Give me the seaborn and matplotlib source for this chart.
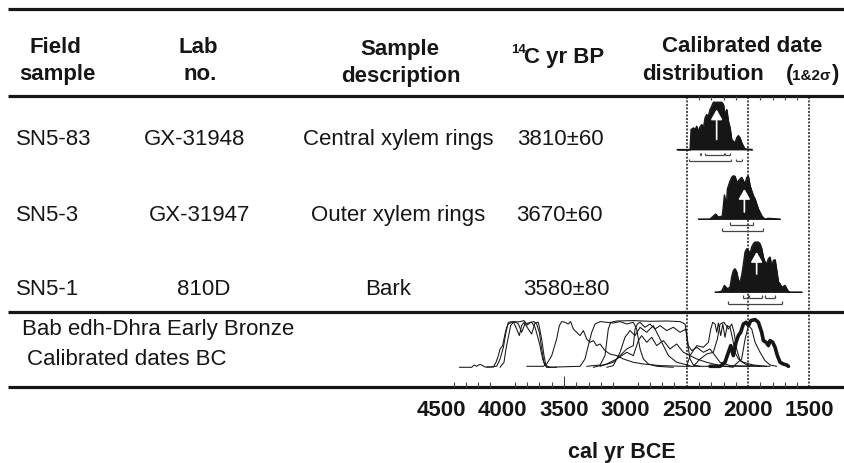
import matplotlib
matplotlib.use("Agg")
import matplotlib.pyplot as plt
import numpy as np
import pandas as pd
import seaborn as sns

# ---------------- table content ----------------
field_samples = ["SN5-83", "SN5-3", "SN5-1"]
lab_numbers = ["GX-31948", "GX-31947", "810D"]
descriptions = ["Central xylem rings", "Outer xylem rings", "Bark"]
c14_ages = ["3810±60", "3670±60", "3580±80"]

# ---------------- calibrated distributions (cal yr BCE, relative probability) ----------------
dist1_years = [2579, 2473, 2468, 2465, 2446, 2432, 2419, 2405, 2392, 2378, 2364, 2351, 2337, 2324,
               2310, 2297, 2283, 2269, 2242, 2215, 2201, 2188, 2174, 2161, 2147, 2134, 2120, 2106,
               2093, 2079, 2066, 2052, 2038, 2025, 1967]
dist1_prob = [0, 0, 12, 20, 21.7, 20, 23.3, 18.3, 22.7, 25, 21.7, 31.7, 35, 33.3,
              40, 43.3, 47.3, 47.3, 47.3, 47.3, 45, 35, 40, 28.3, 21.7, 10, 8.3, 6.7,
              11.7, 14, 11.7, 6.7, 3.3, 0.7, 0]

dist2_years = [2405, 2310, 2283, 2264, 2242, 2210, 2193, 2182, 2174, 2169, 2161, 2147, 2134, 2120,
               2106, 2093, 2079, 2066, 2052, 2038, 2025, 2011, 1998, 1984, 1971, 1957, 1943, 1930,
               1916, 1903, 1889, 1875, 1862, 1835, 1740]
dist2_prob = [0, 0, 3, 5, 2, 3, 24, 13, 20, 30, 33, 38, 41.7, 43.3,
              42.7, 36.7, 38.3, 40, 41.7, 38.3, 35, 41.7, 42.7, 33.3, 28.3, 23.3, 20, 15,
              10, 6.7, 3.3, 1.3, 0, 0.7, 0]

dist3_years = [2269, 2242, 2215, 2193, 2182, 2166, 2147, 2134, 2120, 2106, 2093, 2079, 2066, 2052,
               2038, 2025, 2011, 1998, 1984, 1971, 1957, 1943, 1916, 1903, 1889, 1876, 1862, 1848,
               1835, 1821, 1808, 1794, 1780, 1767, 1753, 1740, 1726, 1712, 1699, 1685, 1672, 1658, 1563]
dist3_prob = [0, 0, 1, 6.7, 5, 3.3, 5, 15, 21.7, 23.3, 20, 11.7, 10, 16.7,
              28.3, 40, 43.3, 41.7, 38.3, 45, 48.3, 50, 50, 48.3, 43.3, 35, 30, 28.3,
              33.3, 35, 25, 31.7, 32.3, 21.7, 10, 8.3, 5, 5.7, 6.7, 3.3, 0.7, 0, 0]

median_years = [2256, 2030, 1930]
sigma1_ranges = [[(2395, 2380), (2352, 2195), (2185, 2150)],
                 [(2147, 1957)],
                 [(2038, 1998), (1992, 1884), (1862, 1780)]]
sigma2_ranges = [[(2483, 2143), (2100, 2048)],
                 [(2215, 1875)],
                 [(2161, 1726)]]

# ---------------- Bab edh-Dhra Early Bronze calibrated dates ----------------
bab1_years = [4353, 4252, 4233, 4212, 4185, 4163, 4144, 4076, 4054, 4035, 4021, 4000, 3981, 3967, 3954,
              3927, 3899, 3872, 3845, 3818, 3791, 3764, 3736, 3717, 3696, 3674, 3655, 3628, 3560]
bab1_prob = [0, 0, 2.3, 1, 3, 1.7, 0.3, 0.3, 5, 11.7, 18.3, 21.7, 33.3, 40, 43.3,
             45, 45.7, 43.3, 35, 43.3, 44.3, 45, 40, 31.7, 21.7, 8.3, 1.7, 0, 0]
bab2_years = [4130, 4049, 4021, 3994, 3973, 3954, 3913, 3886, 3864, 3845, 3826, 3791, 3764, 3736, 3709,
              3682, 3663, 3647, 3614]
bab2_prob = [0, 1, 8.3, 20, 35, 45, 45.7, 38.3, 31.7, 41.7, 45, 38.3, 33.3, 44.3, 45,
             28.3, 11.7, 1.7, 0]
bab3_years = [4021, 3989, 3973, 3954, 3935, 3913, 3858, 3826, 3799, 3772, 3744, 3723, 3701, 3682, 3663, 3641]
bab3_prob = [0, 5, 18.3, 30, 41.7, 45, 45.7, 46.7, 42.3, 45, 45.7, 43.3, 35, 18.3, 5, 0]
bab4_years = [3804, 3668, 3641, 3600, 3560, 3538, 3519, 3492, 3465, 3446, 3424, 3397, 3369, 3342, 3315,
              3288, 3261, 3234, 3206, 3166, 3125, 3071, 3016, 2935, 2853, 2717, 2527, 2120, 1821]
bab4_prob = [1, 1, 3.3, 11.7, 28.3, 41.7, 45.7, 45, 43.3, 45.7, 38.3, 35, 31.7, 36.7, 28.3,
             25, 26.7, 21.7, 23.3, 16.7, 13.3, 11.7, 8.3, 5, 3.3, 1.7, 1, 1, 1]
bab5_years = [3641, 3369, 3329, 3302, 3274, 3247, 3206, 3152, 3098, 3043, 2989, 2935, 2908, 2880, 2853,
              2812, 2745, 2609]
bab5_prob = [0, 1, 8.3, 21.7, 35, 43.3, 45.7, 45, 44.3, 45.7, 43.3, 45, 38.3, 18.3, 8.3, 3.3, 1, 0]
bab6_years = [3315, 3206, 3166, 3139, 3119, 3071, 2935, 2799, 2663, 2554, 2513, 2494, 2473, 2446, 2391]
bab6_prob = [1, 2.3, 11.7, 38.3, 45, 46.3, 46.7, 46, 46.3, 45.7, 43.3, 25, 8.3, 2.3, 1]
bab7_years = [3206, 3098, 3043, 2989, 2935, 2921, 2902, 2880, 2840, 2799, 2758, 2717, 2663, 2609, 2554,
              2506, 2487, 2459, 2418, 2364, 2310, 2269, 2228, 2147, 1984]
bab7_prob = [1, 5, 11.7, 18.3, 21.7, 38.3, 43.3, 45, 40, 43.3, 38.3, 41.7, 36.7, 40, 35,
             38.3, 21.7, 16.7, 20, 15, 18.3, 11.7, 5, 1.7, 1]
bab8_years = [3261, 3152, 3071, 2989, 2935, 2894, 2867, 2826, 2785, 2745, 2690, 2636, 2582, 2527, 2473,
              2418, 2337, 2228, 2120]
bab8_prob = [0, 3.3, 8.3, 15, 11.7, 26.7, 31.7, 25, 30, 21.7, 26.7, 18.3, 23.3, 15, 11.7, 8.3, 5, 1.7, 0]
bab9_years = [3152, 3098, 3043, 3003, 2962, 2921, 2880, 2826, 2772, 2731, 2690, 2649, 2582, 2473]
bab9_prob = [0, 1.7, 15, 30, 36.7, 31.7, 40, 35, 41.7, 31.7, 21.7, 11.7, 5, 1.7]
bab10_years = [2500, 2473, 2446, 2418, 2364, 2323, 2304, 2288, 2269, 2255, 2242, 2223, 2206, 2188, 2169,
               2147, 2125, 2106, 2079, 2038, 1957, 1848]
bab10_prob = [1, 11.7, 16.7, 21.7, 20, 25, 38.3, 45, 43.3, 35, 44.3, 31.7, 43.3, 30, 41.7,
              40, 28.3, 15, 8.3, 5, 2.3, 1]
bab11_years = [2446, 2391, 2337, 2283, 2250, 2228, 2196, 2160, 2133, 2114, 2093, 2065, 2011, 1902]
bab11_prob = [1, 8.3, 13.3, 15, 28.3, 43.3, 45, 38.3, 43.3, 35, 18.3, 6.7, 2.3, 1]
bab12_years = [2120, 2052, 2024, 1997, 1970, 1943, 1902, 1862, 1821, 1766]
bab12_prob = [1, 8.3, 28.3, 41.7, 38.3, 25, 15, 6.7, 2.3, 1]
# bold curve: this study's samples combined
sn5_years = [2310, 2228, 2188, 2160, 2141, 2120, 2098, 2079, 2060, 2038, 2016, 1997, 1978, 1943, 1916,
             1889, 1875, 1853, 1834, 1821, 1799, 1780, 1761, 1739, 1712, 1685, 1671]
sn5_prob = [1, 1, 5, 15, 21.7, 11.7, 25, 31.7, 35, 43.3, 45, 41.7, 46.7, 47.7, 45,
            35, 26.7, 25, 21.7, 26.7, 25, 20, 11.7, 5, 3.3, 2.3, 1]

# ---------------- axis ticks ----------------
tick_label_years = [4500, 4000, 3500, 3000, 2500, 2000, 1500]
minor_tick_years = list(range(4400, 1500, -100))
top_tick_years = [2400, 2300, 2200, 2100, 1900, 1800, 1700, 1600]
long_tick_years = [3500]
guide_years = [2500, 2000, 1500]

# ---------------- style ----------------
sns.set_theme(style="white")
plt.rcParams["font.family"] = ["Liberation Sans", "DejaVu Sans"]
INK = "#161616"
GREY = "#444444"

W, H = 845, 464
fig = plt.figure(figsize=(W / 100, H / 100), dpi=100)


def px_axes(x0, x1, y0, y1):
    ax = fig.add_axes([x0 / W, 1 - y1 / H, (x1 - x0) / W, (y1 - y0) / H])
    ax.set_facecolor("none")
    return ax


XL = (4673.6, 1209.9)   # years at the left / right edge of the date columns

# ---- table frame and text (pixel-coordinate overlay)
ax0 = px_axes(0, W, 0, H)
ax0.set_xlim(0, W)
ax0.set_ylim(H, 0)
ax0.axis("off")
ax0.hlines([10, 97, 313, 388], 8, W, color=INK, lw=2.3)

hdr = dict(fontsize=16, fontweight="bold", color=INK, va="baseline")
ax0.text(55, 53, "Field", ha="center", **hdr)
ax0.text(57, 80, "sample", ha="center", **hdr)
ax0.text(198, 53, "Lab", ha="center", **hdr)
ax0.text(200, 80, "no.", ha="center", **hdr)
ax0.text(400, 55, "Sample", ha="center", **hdr)
ax0.text(401, 82, "description", ha="center", **hdr)
ax0.text(511, 53, "14", ha="left", fontsize=9.5, fontweight="bold", color=INK, va="baseline")
ax0.text(524, 63, "C yr BP", ha="left", **hdr)
ax0.text(742, 52, "Calibrated date", ha="center", **hdr)
ax0.text(642, 80, "distribution", ha="left", **hdr)
ax0.text(838, 80, ")", ha="right", **hdr)
ax0.text(831, 80, "1&2σ", ha="right", fontsize=11, fontweight="bold", color=INK, va="baseline")
ax0.text(793, 80, "(", ha="right", **hdr)

body = dict(fontsize=16, color=INK, va="baseline")
row_text_baselines = [145, 221, 295]
lab_x = [195, 200, 204]
desc_x = [398, 398, 388]
age_x = [560, 559, 566]
for i in range(3):
    yb = row_text_baselines[i]
    ax0.text(16, yb, field_samples[i], ha="left", **body)
    ax0.text(lab_x[i], yb, lab_numbers[i], ha="center", **body)
    ax0.text(desc_x[i], yb, descriptions[i], ha="center", **body)
    ax0.text(age_x[i], yb, c14_ages[i], ha="center", **body)

ax0.text(22, 335, "Bab edh-Dhra Early Bronze", ha="left", **body)
ax0.text(27, 365, "Calibrated dates BC", ha="left", **body)

# ---- shared date column: guides, ticks, labels
axc = px_axes(420, W, 97, 388)
axc.set_xlim(XL)
axc.set_ylim(0, 1)
for s in axc.spines.values():
    s.set_visible(False)
for yr in guide_years:
    axc.axvline(yr, color=INK, lw=1.1, ls=(0, (1.3, 1.0)))
axc.set_yticks([])
axc.set_xticks(tick_label_years)
axc.set_xticklabels([str(t) for t in tick_label_years], fontsize=16, fontweight="bold", color=INK)
axc.set_xticks(minor_tick_years, minor=True)
axc.tick_params(axis="x", which="major", length=0, pad=9)
axc.tick_params(axis="x", which="minor", direction="in", length=3.6, width=0.8, color=GREY, bottom=True)
axc.set_xlabel("cal yr BCE", fontsize=15.5, fontweight="bold", color=INK)
axc.xaxis.label.set_va("baseline")
axc.xaxis.set_label_coords((622 - 420) / 425, -(458 - 388) / 291)

sec_top = axc.secondary_xaxis("top")
sec_top.set_xticks(top_tick_years)
sec_top.tick_params(direction="in", length=3.0, width=0.8, color=GREY, labeltop=False)
for s in sec_top.spines.values():
    s.set_visible(False)

sec_bot = axc.secondary_xaxis("bottom")
sec_bot.set_xticks(long_tick_years)
sec_bot.tick_params(direction="in", length=8, width=0.8, color=GREY, labelbottom=False)
for s in sec_bot.spines.values():
    s.set_visible(False)

# ---- per-sample calibrated distributions
dists = [(dist1_years, dist1_prob), (dist2_years, dist2_prob), (dist3_years, dist3_prob)]
row_baselines = [150.5, 220, 293]
arrow_span = [(10, 40), (7, 30), (18, 40)]
for i, (yrs, prob) in enumerate(dists):
    b = row_baselines[i]
    ax = px_axes(420, W, b - 55, b + 15)
    ax.set_xlim(XL)
    ax.set_ylim(-15, 55)
    ax.fill_between(yrs, 0, prob, facecolor=INK, edgecolor=INK, lw=0.6, antialiased=True)
    sns.lineplot(x=yrs, y=prob, ax=ax, color=INK, lw=0.9, estimator=None, sort=False)
    tail, tip = arrow_span[i]
    ax.annotate("", xy=(median_years[i], tip), xytext=(median_years[i], tail),
                arrowprops=dict(arrowstyle="-|>,head_length=0.6,head_width=0.34",
                                color="white", lw=1.2, shrinkA=0, shrinkB=0, mutation_scale=10))
    for lo, hi in sigma1_ranges[i]:
        ax.hlines(-5.5, lo, hi, color=GREY, lw=0.9)
        ax.vlines([lo, hi], -5.5, -3.3, color=GREY, lw=0.9)
    for lo, hi in sigma2_ranges[i]:
        ax.hlines(-11.5, lo, hi, color=GREY, lw=0.9)
        ax.vlines([lo, hi], -11.5, -9.3, color=GREY, lw=0.9)
    ax.axis("off")

# ---- Bab edh-Dhra spaghetti of calibrated dates
thin = [(bab1_years, bab1_prob), (bab2_years, bab2_prob), (bab3_years, bab3_prob),
        (bab4_years, bab4_prob), (bab5_years, bab5_prob), (bab6_years, bab6_prob),
        (bab7_years, bab7_prob), (bab8_years, bab8_prob), (bab9_years, bab9_prob),
        (bab10_years, bab10_prob), (bab11_years, bab11_prob), (bab12_years, bab12_prob)]
frames = []
for k, (yrs, prob) in enumerate(thin):
    frames.append(pd.DataFrame({"year": yrs, "prob": prob, "curve": k}))
df_thin = pd.concat(frames, ignore_index=True)
df_sn5 = pd.DataFrame({"year": sn5_years, "prob": sn5_prob})

axb = px_axes(420, W, 313, 388)
axb.set_xlim(XL)
axb.set_ylim(-19.7, 55.3)
sns.lineplot(data=df_thin, x="year", y="prob", units="curve", estimator=None, sort=False,
             color=INK, lw=0.75, ax=axb)
sns.lineplot(data=df_sn5, x="year", y="prob", estimator=None, sort=False,
             color=INK, lw=2.6, ax=axb)
axb.axis("off")

fig.savefig("out.png", dpi=100)
